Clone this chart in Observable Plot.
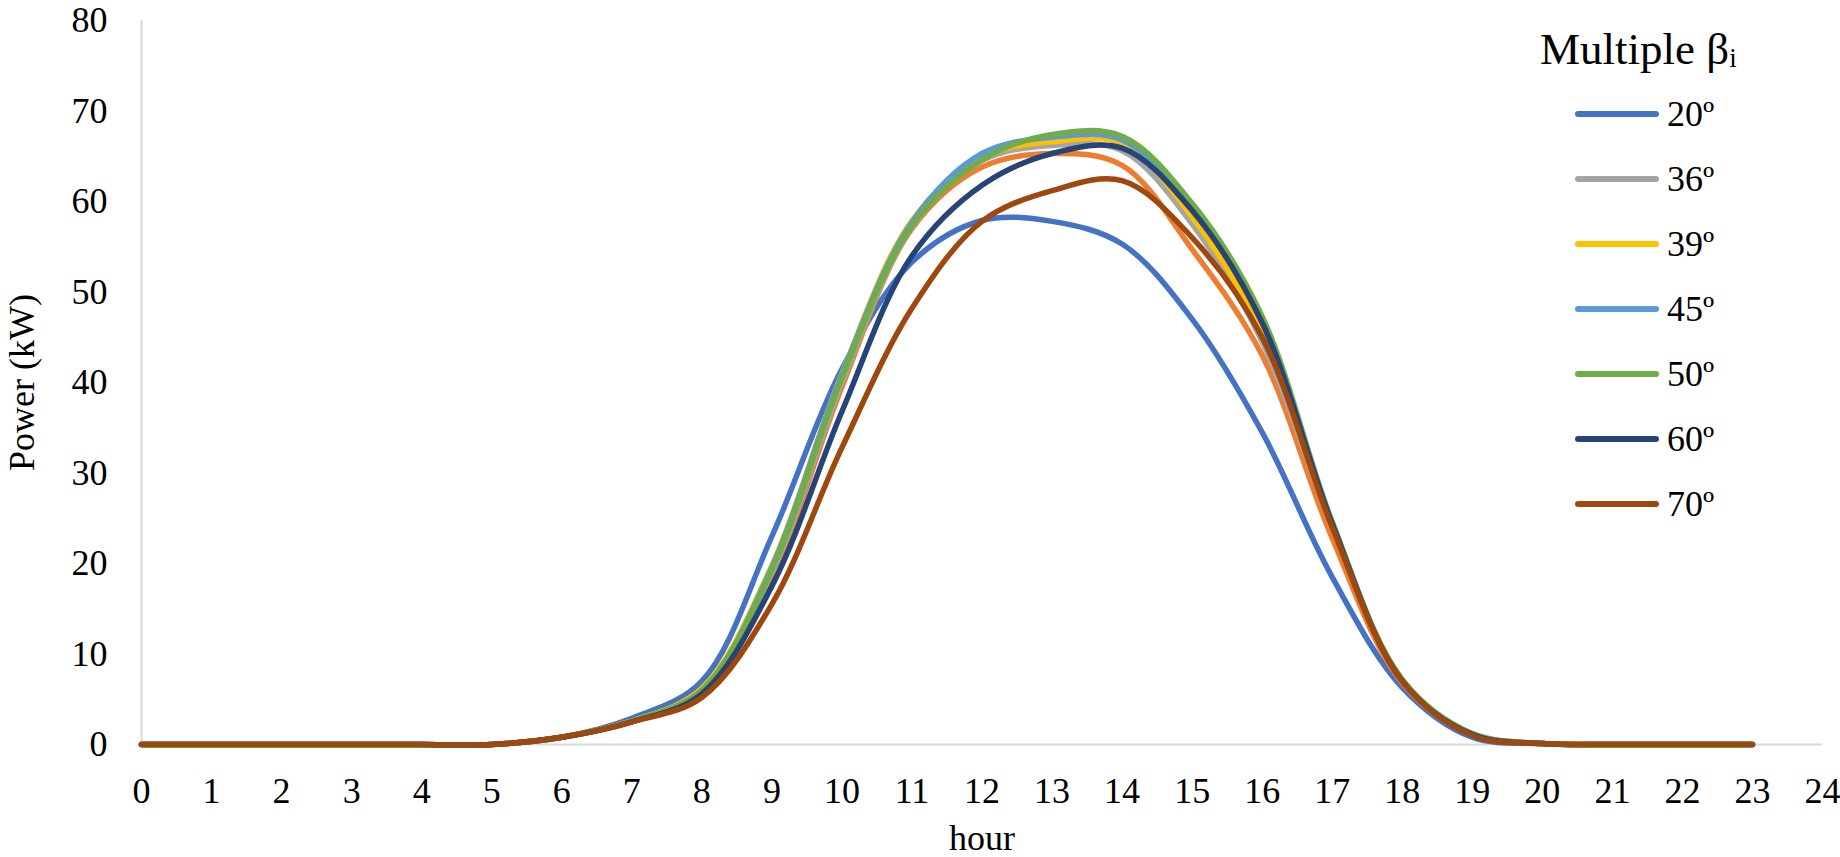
<!DOCTYPE html>
<html>
<head>
<meta charset="utf-8">
<script src="https://cdn.jsdelivr.net/npm/d3@7"></script>
<script src="https://cdn.jsdelivr.net/npm/@observablehq/plot@0.6"></script>
<style>
  html, body { margin: 0; padding: 0; background: #fff; overflow: hidden; }
  #wrap { position: relative; width: 1840px; height: 857px; font-family: "Liberation Serif", "Times New Roman", serif; color: #000; }
  #legend { position: absolute; left: 1540px; top: 24px; }
  #legend .title { font-size: 45px; line-height: 50px; height: 50px; white-space: nowrap; }
  #legend .title sub { font-size: 60%; vertical-align: -0.12em; }
  #legend .rows { margin-top: 7px; }
  #legend .row { display: flex; align-items: center; height: 65px; }
  #legend .sw { width: 84px; height: 6px; border-radius: 3px; margin-left: 35px; }
  #legend .lab { font-size: 36px; margin-left: 8px; line-height: 40px; }
</style>
</head>
<body>
<div id="wrap"></div>
<script>
// ---- data ----
const hours = [0,1,2,3,4,5,6,7,8,9,10,11,12,13,14,15,16,17,18,19,20,21,22,23];
const xTicks = [0,1,2,3,4,5,6,7,8,9,10,11,12,13,14,15,16,17,18,19,20,21,22,23,24];
const yTicks = [0,10,20,30,40,50,60,70,80];

const seriesNames = ["20º", "unlabelled", "36º", "39º", "45º", "50º", "60º", "70º"];
const legendNames = ["20º", "36º", "39º", "45º", "50º", "60º", "70º"];

const p20  = [0,0,0,0,0,0,0.8,2.9,7.0,23.0,41.5,53.3,57.9,57.8,55.3,47.0,34.5,18.5,6.3,0.8,0.1,0,0,0];
const pUnl = [0,0,0,0,0,0,0.8,2.5,5.8,18.5,39.5,57.0,63.8,65.3,64.0,54.7,43.0,22.8,6.8,1.1,0.1,0,0,0];
const p36  = [0,0,0,0,0,0,0.8,2.6,6.0,19.0,40.0,57.2,64.5,66.2,65.6,57.5,44.5,24.0,7.0,1.1,0.1,0,0,0];
const p39  = [0,0,0,0,0,0,0.8,2.6,6.2,19.8,41.0,57.9,64.9,66.6,66.4,58.3,45.5,24.2,7.0,1.1,0.1,0,0,0];
const p45  = [0,0,0,0,0,0,0.8,2.6,6.0,19.6,40.9,57.7,65.3,67.1,66.8,59.3,46.8,24.4,7.1,1.2,0.1,0,0,0];
const p50  = [0,0,0,0,0,0,0.8,2.6,6.0,19.3,40.5,57.3,64.6,67.4,67.2,59.8,47.3,24.6,7.2,1.2,0.1,0,0,0];
const p60  = [0,0,0,0,0,0,0.8,2.5,5.6,17.5,36.8,54.0,61.8,65.3,65.9,59.0,46.6,24.4,7.0,1.1,0.1,0,0,0];
const p70  = [0,0,0,0,0,0,0.8,2.5,5.2,15.5,32.8,48.2,57.8,61.2,62.3,56.0,45.0,24.0,7.0,1.0,0.1,0,0,0];

const seriesValues = [p20, pUnl, p36, p39, p45, p50, p60, p70];
const seriesColors = ["#4472C4", "#ED7D31", "#A5A5A5", "#FFC000", "#5B9BD5", "#70AD47", "#264478", "#9E480E"];

// ---- build long table ----
const rows = [];
seriesNames.forEach((name, i) => {
  seriesValues[i].forEach((v, j) => rows.push({series: name, hour: hours[j], power: v}));
});

const chart = Plot.plot({
  width: 1840,
  height: 857,
  marginLeft: 141,
  marginRight: 18,
  marginTop: 20,
  marginBottom: 113,
  style: {fontFamily: "'Liberation Serif', 'Times New Roman', serif", fontSize: "35px", color: "#000", background: "#fff"},
  x: {domain: [0, 24], labelArrow: "none"},
  y: {domain: [0, 80], labelArrow: "none"},
  color: {domain: seriesNames, range: seriesColors},
  marks: [
    Plot.axisX({ticks: xTicks, tickSize: 0, tickPadding: 33, tickFormat: d => String(d), label: "hour", labelArrow: "none", labelAnchor: "center", labelOffset: 105, fontSize: 36}),
    Plot.axisY({ticks: yTicks, tickSize: 0, tickPadding: 34, tickFormat: d => String(d), label: "Power (kW)", labelArrow: "none", labelAnchor: "center", labelOffset: 133, fontSize: 36}),
    Plot.ruleX([0], {stroke: "#d9d9d9", strokeWidth: 2}),
    Plot.ruleY([0], {stroke: "#d9d9d9", strokeWidth: 2}),
    Plot.line(rows, {x: "hour", y: "power", z: "series", stroke: "series", strokeWidth: 5.5, curve: "catmull-rom", strokeLinecap: "round", strokeLinejoin: "round"})
  ]
});

const wrap = document.getElementById("wrap");
wrap.appendChild(chart);

// ---- legend ----
const legend = document.createElement("div");
legend.id = "legend";
const title = document.createElement("div");
title.className = "title";
title.innerHTML = "Multiple β<sub>i</sub>";
legend.appendChild(title);
const rowsDiv = document.createElement("div");
rowsDiv.className = "rows";
legendNames.forEach(name => {
  const r = document.createElement("div");
  r.className = "row";
  const sw = document.createElement("div");
  sw.className = "sw";
  sw.style.background = seriesColors[seriesNames.indexOf(name)];
  const lab = document.createElement("span");
  lab.className = "lab";
  lab.textContent = name;
  r.appendChild(sw);
  r.appendChild(lab);
  rowsDiv.appendChild(r);
});
legend.appendChild(rowsDiv);
wrap.appendChild(legend);
</script>
</body>
</html>
